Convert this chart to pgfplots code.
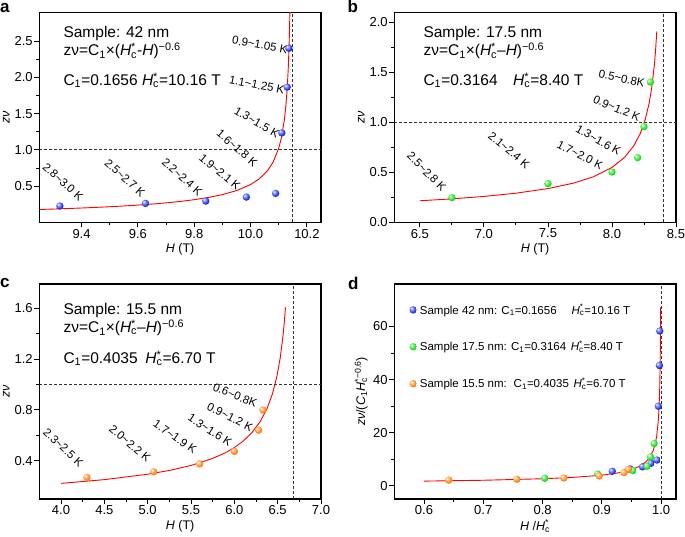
\documentclass[border=0pt]{standalone}
\usepackage{fontspec}
\setmainfont{Liberation Sans}
\usepackage{pgfplots}
\pgfplotsset{compat=1.18}

\newcommand{\Hs}{\textit{H}\makebox[0pt][l]{\textsuperscript{*}}\textsubscript{c}}
\newcommand{\lbl}{\fontsize{11.5}{13}\selectfont}
\newcommand{\bigtxt}{\fontsize{15.5}{18}\selectfont}
\definecolor{bgreen}{RGB}{20,225,20}
\definecolor{borange}{RGB}{255,130,15}
\definecolor{bblue}{RGB}{25,45,250}
\definecolor{dgray}{RGB}{50,50,50}

\pgfdeclareradialshading{glossyB}{\pgfqpoint{-12bp}{12bp}}{color(0bp)=(white); color(9bp)=(bblue!45!white); color(24bp)=(bblue); color(45bp)=(bblue!88!black); color(64bp)=(bblue!75!black)}
\pgfdeclareradialshading{glossyG}{\pgfqpoint{-12bp}{12bp}}{color(0bp)=(white); color(9bp)=(bgreen!45!white); color(24bp)=(bgreen); color(45bp)=(bgreen!88!black); color(64bp)=(bgreen!75!black)}
\pgfdeclareradialshading{glossyO}{\pgfqpoint{-12bp}{12bp}}{color(0bp)=(white); color(9bp)=(borange!45!white); color(24bp)=(borange); color(45bp)=(borange!88!black); color(64bp)=(borange!75!black)}
\pgfdeclareplotmark{gballB}{\pgfpathcircle{\pgfpointorigin}{\pgfplotmarksize}\pgfshadepath{glossyB}{0}\pgfusepath{}}
\pgfdeclareplotmark{gballG}{\pgfpathcircle{\pgfpointorigin}{\pgfplotmarksize}\pgfshadepath{glossyG}{0}\pgfusepath{}}
\pgfdeclareplotmark{gballO}{\pgfpathcircle{\pgfpointorigin}{\pgfplotmarksize}\pgfshadepath{glossyO}{0}\pgfusepath{}}

\pgfplotsset{
 panel/.style={
  scale only axis, width=281.7pt,
  axis line style={line width=1.1pt},
  tick pos=left, tick align=outside,
  major tick length=5pt, minor tick length=3pt,
  tick style={black, line width=0.9pt},
  ticklabel style={font=\fontsize{13}{14}\selectfont, inner sep=1.5pt},
  /pgf/number format/assume math mode=true,
  label style={font=\fontsize{12.5}{14}\selectfont},
  xlabel style={at={([yshift=-27pt]axis description cs:0.5,0)}, anchor=center},
  ylabel style={at={([xshift=-33pt]axis description cs:0,0.5)}, anchor=center},
  xticklabel style={/pgf/number format/.cd, fixed, fixed zerofill, precision=1},
  clip=true,
 },
 fit/.style={red, line width=0.9pt},
 dsh/.style={dgray, line width=0.9pt, dash pattern=on 3pt off 2pt},
 balls/.style={only marks, mark=#1, mark size=3.7pt},
}

\begin{document}
\begin{tikzpicture}[x=1pt,y=1pt]
\path[use as bounding box] (0,0) rectangle (685,537);

% ---------------- panel a
\begin{axis}[panel, at={(39.3pt,314.7pt)}, anchor=south west, height=210pt,
  xmin=9.25, xmax=10.25, ymin=0, ymax=2.9,
  xtick={9.4,9.6,9.8,10.0,10.2}, ytick={0.5,1.0,1.5,2.0,2.5},
  yticklabel style={/pgf/number format/.cd, fixed, fixed zerofill, precision=1},
  minor x tick num=1, minor y tick num=1,
  xlabel={\textit{H} (T)}, ylabel={\textit{zν}}]
\addplot[dsh] coordinates {(9.25,1) (10.25,1)};
\addplot[dsh] coordinates {(10.15,0) (10.15,2.9)};
\addplot[fit] coordinates {(9.25,0.1766) (9.3,0.1828) (9.4,0.1971) (9.45,0.2055) (9.5,0.2148) (9.55,0.2254) (9.6,0.2376) (9.65,0.2516) (9.7,0.2681) (9.75,0.2878) (9.8,0.3120) (9.85,0.3424) (9.9,0.3823) (9.95,0.4376) (10.0,0.5211) (10.03,0.5970) (10.06,0.7118) (10.08,0.8308) (10.10,1.0241) (10.11,1.1780) (10.12,1.4150) (10.125,1.5924) (10.13,1.8447) (10.134,2.1449) (10.137,2.4786) (10.139,2.7958) (10.14,3.0007)};
\addplot[balls=gballB] coordinates {(9.323,0.225) (9.627,0.261) (9.841,0.293) (9.985,0.348) (10.089,0.399) (10.111,1.234) (10.130,1.866) (10.136,2.403)};
\node[rotate=-42, font=\lbl] at (axis cs:9.334,0.557) {2.8\textasciitilde 3.0 K};
\node[rotate=-42, font=\lbl] at (axis cs:9.554,0.612) {2.5\textasciitilde 2.7 K};
\node[rotate=-42, font=\lbl] at (axis cs:9.757,0.626) {2.2\textasciitilde 2.4 K};
\node[rotate=-40, font=\lbl] at (axis cs:9.891,0.695) {1.9\textasciitilde 2.1 K};
\node[rotate=-41, font=\lbl] at (axis cs:9.952,1.026) {1.6\textasciitilde 1.8 K};
\node[rotate=-30, font=\lbl] at (axis cs:10.022,1.384) {1.3\textasciitilde 1.5 K};
\node[rotate=-11, font=\lbl] at (axis cs:10.022,1.895) {1.1\textasciitilde 1.25 K};
\node[rotate=-10, font=\lbl] at (axis cs:10.033,2.45) {0.9\textasciitilde 1.05 K};
\end{axis}

% ---------------- panel b
\begin{axis}[panel, at={(394.3pt,314.7pt)}, anchor=south west, height=210pt,
  xmin=6.3, xmax=8.5, ymin=0, ymax=2.1,
  xtick={6.5,7.0,7.5,8.0,8.5}, ytick={0,0.5,1.0,1.5,2.0},
  yticklabel style={/pgf/number format/.cd, fixed, fixed zerofill, precision=1},
  minor x tick num=1, minor y tick num=1,
  xlabel={\textit{H} (T)}, ylabel={\textit{zν}}]
\addplot[dsh] coordinates {(6.3,1) (8.5,1)};
\addplot[dsh] coordinates {(8.40,0) (8.40,2.1)};
\addplot[fit] coordinates {(6.5,0.2153) (6.75,0.2343) (7.0,0.2586) (7.25,0.2909) (7.5,0.3371) (7.7,0.3919) (7.85,0.4529) (8.0,0.5483) (8.1,0.6516) (8.17,0.7642) (8.22,0.8853) (8.26,1.0294) (8.29,1.1897) (8.31,1.3419) (8.33,1.5602) (8.34,1.7114) (8.35,1.9091)};
\addplot[balls=gballG] coordinates {(6.75,0.247) (7.5,0.387) (8.0,0.503) (8.2,0.647) (8.25,0.957) (8.3,1.403)};
\node[rotate=-45, font=\lbl] at (axis cs:6.553,0.506) {2.5\textasciitilde 2.8 K};
\node[rotate=-40, font=\lbl] at (axis cs:7.196,0.723) {2.1\textasciitilde 2.4 K};
\node[rotate=-27, font=\lbl] at (axis cs:7.750,0.673) {1.7\textasciitilde 2.0 K};
\node[rotate=-30, font=\lbl] at (axis cs:7.893,0.823) {1.3\textasciitilde 1.6 K};
\node[rotate=-23, font=\lbl] at (axis cs:8.037,1.14) {0.9\textasciitilde 1.2 K};
\node[rotate=-12, font=\lbl] at (axis cs:8.076,1.44) {0.5\textasciitilde 0.8K};
\end{axis}

% ---------------- panel c
\begin{axis}[panel, at={(39.3pt,38pt)}, anchor=south west, height=215pt,
  xmin=3.75, xmax=7.0, ymin=0.1, ymax=1.79,
  xtick={4.0,4.5,5.0,5.5,6.0,6.5,7.0}, ytick={0.4,0.8,1.2,1.6},
  yticklabel style={/pgf/number format/.cd, fixed, fixed zerofill, precision=1},
  minor x tick num=1, minor y tick num=1,
  xlabel={\textit{H} (T)}, ylabel={\textit{zν}}]
\addplot[dsh] coordinates {(3.75,1) (7.0,1)};
\addplot[dsh] coordinates {(6.68,0.1) (6.68,1.79)};
\addplot[fit] coordinates {(4.0,0.2229) (4.5,0.2521) (5.0,0.2946) (5.25,0.3242) (5.5,0.3635) (5.75,0.4188) (5.9,0.4648) (6.0,0.5041) (6.1,0.5538) (6.2,0.6190) (6.3,0.7099) (6.38,0.8147) (6.44,0.9270) (6.49,1.0598) (6.53,1.2117) (6.56,1.3724) (6.575,1.4771) (6.59,1.6064)};
\addplot[balls=gballO] coordinates {(4.3,0.270) (5.07,0.314) (5.6,0.376) (6.0,0.474) (6.28,0.641) (6.33,0.80)};
\node[rotate=-43, font=\lbl] at (axis cs:4.027,0.505) {2.3\textasciitilde 2.5 K};
\node[rotate=-40, font=\lbl] at (axis cs:4.796,0.537) {2.0\textasciitilde 2.2 K};
\node[rotate=-35, font=\lbl] at (axis cs:5.316,0.588) {1.7\textasciitilde 1.9 K};
\node[rotate=-33, font=\lbl] at (axis cs:5.719,0.641) {1.3\textasciitilde 1.6 K};
\node[rotate=-27, font=\lbl] at (axis cs:5.95,0.745) {0.9\textasciitilde 1.2 K};
\node[rotate=-22, font=\lbl] at (axis cs:6.008,0.915) {0.6\textasciitilde 0.8K};
\end{axis}

% ---------------- panel d
\begin{axis}[panel, at={(394.3pt,38pt)}, anchor=south west, height=215pt,
  xmin=0.55, xmax=1.025, ymin=-5, ymax=76,
  xtick={0.6,0.7,0.8,0.9,1.0}, ytick={0,20,40,60},
  minor x tick num=1, minor y tick num=1,
  xlabel={\textit{H} /\Hs},
  ylabel={\textit{zν}/(\textit{C}\textsubscript{1}\textit{H}\makebox[0pt][l]{\textsubscript{c}}\textsuperscript{*−0.6})},
  ylabel style={at={([xshift=-33pt]axis description cs:0,0.5)}},
  legend image code/.code={\draw[#1] plot coordinates {(0pt,0pt)};},
  legend cell align=left,
  legend style={draw=none, fill=none, at={(axis description cs:0,1)}, anchor=north west,
    xshift=15pt, yshift=-19pt, inner sep=0pt, row sep=23.5pt, column sep=2pt,
    nodes={inner sep=1pt}, font=\fontsize{11.5}{13}\selectfont}]
\addplot[dsh, forget plot] coordinates {(1.0,-5) (1.0,76)};
\addplot[fit, forget plot] coordinates {(0.6,1.733) (0.7,2.059) (0.8,2.627) (0.85,3.121) (0.9,3.981) (0.93,4.931) (0.95,6.034) (0.965,7.475) (0.975,9.146) (0.982,11.139) (0.987,13.54) (0.99,15.85) (0.9925,18.83) (0.995,24.02) (0.9965,29.75) (0.9975,36.41) (0.9983,45.89) (0.9988,56.55) (0.9991,67.21)};
\addplot[balls=gballB] coordinates {(0.9176,5.44) (0.9475,6.33) (0.9686,7.11) (0.9828,8.45) (0.9930,9.68) (0.9952,29.95) (0.9970,45.3) (0.9976,58.3)};
\addlegendentry{Sample 42 nm: C\textsubscript{1}=0.1656\hspace{1.3em}\Hs=10.16 T}
\addplot[balls=gballG] coordinates {(0.8036,2.80) (0.8929,4.39) (0.9524,5.70) (0.9762,7.33) (0.9821,10.85) (0.9881,15.9)};
\addlegendentry{Sample 17.5 nm: C\textsubscript{1}=0.3164\hspace{0.4em}\Hs=8.40 T}
\addplot[balls=gballO] coordinates {(0.6418,2.09) (0.7567,2.44) (0.8358,2.92) (0.8955,3.68) (0.9373,4.97) (0.9448,6.21)};
\addlegendentry{Sample 15.5 nm:\hspace{0.6em}C\textsubscript{1}=0.4035\hspace{0.4em}\Hs=6.70 T}
\end{axis}

% ---------------- texts
\node[anchor=base west, font=\bigtxt] at (60,499.3) {Sample: 42 nm};
\node[anchor=base west, font=\bigtxt] at (60,481) {zν=C\textsubscript{1}×(\Hs-\textit{H})\textsuperscript{−0.6}};
\node[anchor=base west, font=\bigtxt] at (60,451.7) {C\textsubscript{1}=0.1656 \Hs=10.16 T};

\node[anchor=base west, font=\bigtxt] at (420,499.3) {Sample: 17.5 nm};
\node[anchor=base west, font=\bigtxt] at (420,481) {zν=C\textsubscript{1}×(\Hs–\textit{H})\textsuperscript{−0.6}};
\node[anchor=base west, font=\bigtxt] at (420,451.7) {C\textsubscript{1}=0.3164\hspace{1em}\Hs=8.40 T};

\node[anchor=base west, font=\bigtxt] at (60,222.7) {Sample: 15.5 nm};
\node[anchor=base west, font=\bigtxt] at (60,204.3) {zν=C\textsubscript{1}×(\Hs–\textit{H})\textsuperscript{−0.6}};
\node[anchor=base west, font=\bigtxt] at (60,173.7) {C\textsubscript{1}=0.4035\hspace{0.5em}\Hs=6.70 T};

\node[anchor=base west, inner sep=0pt, font=\fontsize{17}{19}\selectfont\bfseries] at (0,524) {a};
\node[anchor=base west, inner sep=0pt, font=\fontsize{17}{19}\selectfont\bfseries] at (347.5,524) {b};
\node[anchor=base west, inner sep=0pt, font=\fontsize{17}{19}\selectfont\bfseries] at (0,249) {c};
\node[anchor=base west, inner sep=0pt, font=\fontsize{17}{19}\selectfont\bfseries] at (348,247.5) {d};
\end{tikzpicture}
\end{document}
